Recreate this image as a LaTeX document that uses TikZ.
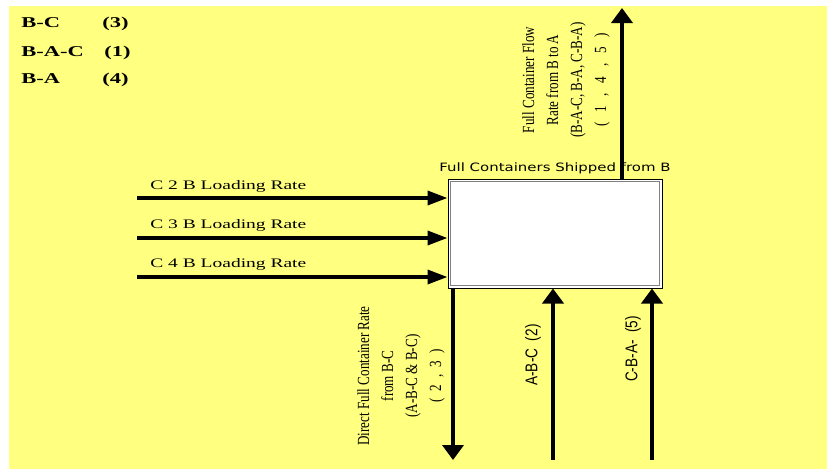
\documentclass[tikz,border=0pt]{standalone}
\usepackage{fontspec}
\setmainfont{Liberation Serif}
\newfontfamily\titlefont{DejaVu Sans}
\newfontfamily\routefont{Liberation Sans}
\usetikzlibrary{arrows.meta,positioning}
\definecolor{bg}{HTML}{FFFF80}
\definecolor{rim}{HTML}{808080}
\tikzset{
  flowH/.style={line width=3.5pt,-{Triangle[length=20pt,width=14pt]}},
  flowV/.style={line width=4.5pt,-{Triangle[length=15pt,width=21pt]}},
  legend/.style={anchor=base west,inner sep=0pt,xscale=1.5,font=\fontsize{15}{18}\selectfont\bfseries},
  loadrate/.style={anchor=base west,inner sep=0pt,xscale=1.5,font=\fontsize{13}{15}\selectfont},
  flowtext/.style={rotate=90,xscale=0.77,inner sep=0pt,align=center,font=\fontsize{17}{24}\selectfont},
  routetext/.style={rotate=90,xscale=0.8,inner sep=0pt,font=\routefont\fontsize{17}{20}\selectfont},
}

\begin{document}
\begin{tikzpicture}[x=1pt,y=-1pt]
  \useasboundingbox (0,0) rectangle (827,469);
  \fill[bg] (9,6) rectangle (827,469);
  % legend
  \node[legend] (lBC) at (21,27) {B-C};
  \node[legend] (lBAC) at (21,56) {B-A-C};
  \node[legend] (lBA) at (21,83) {B-A};
  \node[legend] (nBC) at (102,27) {(3)};
  \node[legend] (nBAC) at (104,56) {(1)};
  \node[legend] (nBA) at (102,83) {(4)};
  % box
  \node[draw,line width=1pt,fill=white,minimum width=214pt,minimum height=109pt,inner sep=0pt] (shipB) at (555,233.5) {};
  \draw[rim,line width=1.5pt] ([shift={(3,3)}]shipB.north west) rectangle ([shift={(-3,-3)}]shipB.south east);
  \node[font=\titlefont\fontsize{11.5}{13}\selectfont,xscale=1.3,inner sep=0pt,above=4pt of shipB] (title) {Full Containers Shipped from B};
  % loading rates
  \node[loadrate] (t2) at (150,189) {C 2 B Loading Rate};
  \node[loadrate] (t3) at (150,228) {C 3 B Loading Rate};
  \node[loadrate] (t4) at (150,267) {C 4 B Loading Rate};
  \coordinate (c2) at (137,198);
  \coordinate (c3) at (137,238);
  \coordinate (c4) at (137,277);
  \draw[flowH] (c2) -- (c2 -| shipB.west);
  \draw[flowH] (c3) -- (c3 -| shipB.west);
  \draw[flowH] (c4) -- (c4 -| shipB.west);
  % flows
  \node[flowtext] (toA) at (566,80) {Full Container Flow\\Rate from B to A\\(B-A-C, B-A, C-B-A)\\(\hspace{0.75em}1\hspace{0.75em},\hspace{0.75em}4\hspace{0.75em},\hspace{0.75em}5\hspace{0.75em})};
  \node[flowtext] (toC) at (401,376) {Direct Full Container Rate\\from B-C\\(A-B-C \& B-C)\\(\hspace{0.55em}2\hspace{0.55em},\hspace{0.55em}3\hspace{0.55em})};
  \node[routetext] (rABC) at (533,355) {A-B-C\ \ (2)};
  \node[routetext] (rCBA) at (633,349) {C-B-A-\ \ (5)};
  \coordinate (ba) at (622,8);
  \coordinate (bc) at (453,460);
  \coordinate (abc) at (553,460);
  \coordinate (cba) at (652,460);
  \draw[flowV] (ba |- shipB.north) -- (ba);
  \draw[flowV] (bc |- shipB.south) -- (bc);
  \draw[flowV] (abc) -- (abc |- shipB.south);
  \draw[flowV] (cba) -- (cba |- shipB.south);
\end{tikzpicture}
\end{document}
